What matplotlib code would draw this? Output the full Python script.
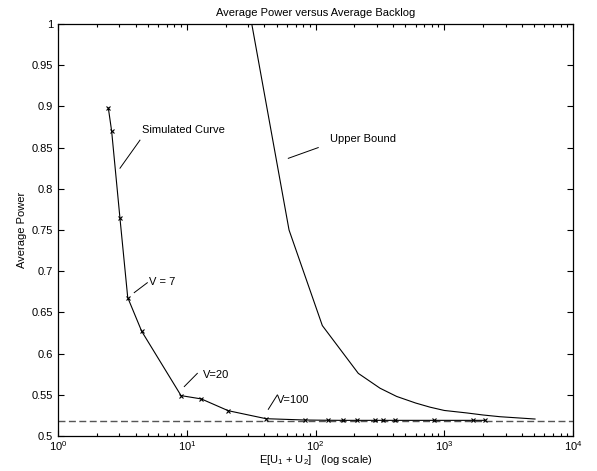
import matplotlib
matplotlib.use('Agg')
import matplotlib.pyplot as plt
from matplotlib.ticker import LogLocator, NullFormatter

plt.rcParams['font.family'] = ['Liberation Sans', 'DejaVu Sans']
plt.rcParams['mathtext.fontset'] = 'custom'
plt.rcParams['mathtext.rm'] = 'Liberation Sans'
plt.rcParams['mathtext.it'] = 'Liberation Sans'
plt.rcParams['font.size'] = 8

# simulated curve (backlog, power)
sim_backlog = [2.46, 2.61, 3.03, 3.48, 4.47, 9.03, 12.97, 21.0, 41.3, 82.9,
               125, 164, 209, 290, 333, 414, 832, 1682, 2073]
sim_power = [0.898, 0.870, 0.764, 0.668, 0.627, 0.549, 0.545, 0.5307, 0.521, 0.5194,
             0.5191, 0.5190, 0.5190, 0.5190, 0.5190, 0.5190, 0.5190, 0.5190, 0.5190]

# upper bound curve
ub_backlog = [28, 62.3, 113, 215, 317, 427, 600, 775, 1000, 1493, 2000, 2710, 5070]
ub_power = [1.05, 0.750, 0.634, 0.576, 0.558, 0.548, 0.540, 0.535, 0.531, 0.528, 0.5255, 0.5234, 0.5206]

# minimum power (dashed)
min_power = 0.5182

fig = plt.figure(figsize=(5.97, 4.71), dpi=100)
ax = fig.add_axes([58/597, 1-436/471, (573-58)/597, (436-24)/471])

ax.axhline(min_power, color='#555555', lw=1.0, ls=(0, (5, 2.5)))
ax.plot(sim_backlog, sim_power, color='black', lw=0.8, marker='x', ms=3.5, mew=0.8)
ax.plot(ub_backlog, ub_power, color='black', lw=0.8)

ax.set_xscale('log')
ax.set_xlim(1, 1e4)
ax.set_ylim(0.5, 1.0)
ax.set_yticks([0.5, 0.55, 0.6, 0.65, 0.7, 0.75, 0.8, 0.85, 0.9, 0.95, 1.0])
ax.set_yticklabels(['0.5', '0.55', '0.6', '0.65', '0.7', '0.75', '0.8', '0.85', '0.9', '0.95', '1'])
ax.xaxis.set_minor_locator(LogLocator(base=10, subs=range(2, 10)))
ax.xaxis.set_minor_formatter(NullFormatter())
ax.tick_params(which='both', direction='in', top=True, right=True, width=0.8)
ax.tick_params(which='major', length=4)
ax.tick_params(which='minor', length=2.5)
ax.tick_params(axis='x', pad=2)
for s in ax.spines.values():
    s.set_linewidth(0.9)

ax.set_title('Average Power versus Average Backlog', fontsize=8, pad=6)
ax.set_xlabel('E[U$_1$ + U$_2$]   (log scale)', fontsize=8, labelpad=0)
ax.set_ylabel('Average Power', fontsize=8, labelpad=3)

#annotations: text plus a short leader line, in data coords
def note(text, txy, p1, p2):
    ax.text(txy[0], txy[1], text, va='center', ha='left', fontsize=8)
    ax.plot([p1[0], p2[0]], [p1[1], p2[1]], color='black', lw=0.7)

note('Simulated Curve', (4.47, 0.8714), (4.33, 0.859), (3.03, 0.825))
note('V = 7', (5.12, 0.687), (4.94, 0.686), (3.91, 0.674))
note('V=20', (13.3, 0.574), (12.08, 0.576), (9.57, 0.560))
note('V=100', (50.2, 0.5437), (50.5, 0.5498), (43.0, 0.5324))
note('Upper Bound', (129.6, 0.860), (105, 0.850), (61.5, 0.837))

fig.savefig('out.png', dpi=100)
